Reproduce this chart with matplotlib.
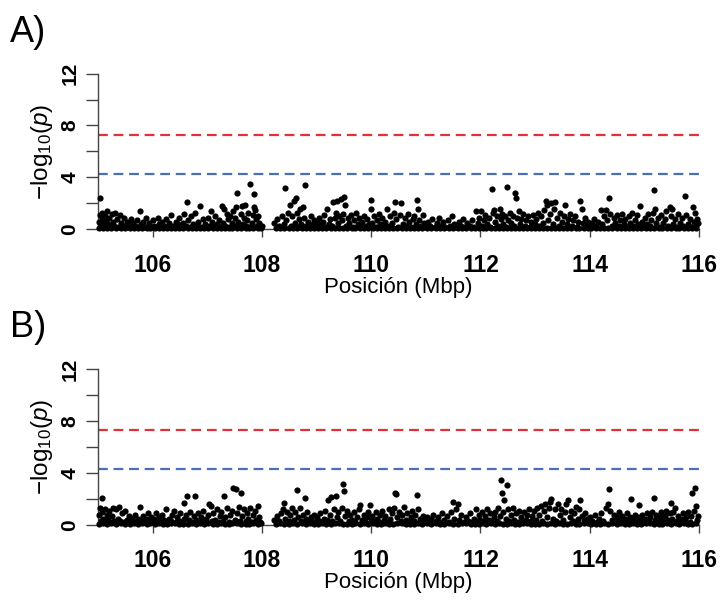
import matplotlib
matplotlib.use('Agg')
import matplotlib.pyplot as plt
import numpy as np

plt.rcParams['font.family'] = ['Liberation Sans', 'DejaVu Sans']
plt.rcParams['mathtext.fontset'] = 'custom'
plt.rcParams['mathtext.rm'] = 'Liberation Sans'
plt.rcParams['mathtext.it'] = 'Liberation Sans:italic'

# umbrales (-log10 p)
genome_wide = 7.3
suggestive = 4.3

x_ticks = [106, 108, 110, 112, 114, 116]
y_ticks = [0, 2, 4, 6, 8, 10, 12]
y_labels = ['0', '', '4', '', '8', '', '12']
panel_names = ['A)', 'B)']

# (posicion Mbp, -log10 p) panel A
snps_a = [
    (105.01, 0.6), (105.03, 1.1), (105.04, 2.4), (105.05, 0.3), (105.07, 0.9), (105.08, 1.3), (105.10, 0.5),
    (105.12, 0.2), (105.13, 1.0), (105.15, 0.7), (105.17, 1.4), (105.19, 0.4), (105.21, 0.9), (105.23, 0.2),
    (105.25, 1.2), (105.27, 0.6), (105.30, 0.3), (105.32, 1.3), (105.35, 0.8), (105.37, 0.2), (105.40, 1.1),
    (105.43, 0.5), (105.45, 0.3), (105.48, 0.9), (105.51, 0.2), (105.54, 0.6), (105.57, 0.4), (105.60, 0.8),
    (105.62, 0.2), (105.65, 0.5), (105.68, 0.3), (105.71, 0.7), (105.74, 0.2), (105.77, 1.4), (105.79, 0.4),
    (105.82, 0.6), (105.85, 0.2), (105.88, 0.9), (105.91, 0.3), (105.94, 0.5), (105.97, 0.2),
    (106.00, 0.7), (106.03, 0.3), (106.06, 0.2), (106.09, 0.9), (106.12, 0.4), (106.15, 0.2), (106.18, 0.6),
    (106.21, 0.3), (106.24, 0.8), (106.27, 0.2), (106.30, 0.5), (106.34, 1.1), (106.37, 0.3), (106.40, 0.2),
    (106.43, 0.6), (106.46, 0.4), (106.49, 0.9), (106.52, 0.2), (106.55, 0.5), (106.58, 1.2), (106.61, 0.3),
    (106.63, 2.1), (106.65, 0.7), (106.68, 0.2), (106.71, 1.0), (106.74, 0.4), (106.77, 1.3), (106.80, 0.3),
    (106.83, 0.6), (106.86, 1.8), (106.89, 0.2), (106.92, 0.8), (106.95, 0.4), (106.98, 0.2),
    (107.01, 0.9), (107.04, 0.3), (107.07, 1.4), (107.09, 0.6), (107.12, 0.2), (107.15, 1.0), (107.18, 0.4),
    (107.21, 0.7), (107.24, 0.2), (107.27, 1.8), (107.29, 0.5), (107.31, 1.6), (107.33, 0.3), (107.36, 1.2),
    (107.38, 0.8), (107.40, 0.2), (107.42, 1.0), (107.45, 0.5), (107.47, 1.4), (107.49, 0.3), (107.51, 0.9),
    (107.53, 1.7), (107.55, 2.8), (107.57, 0.6), (107.59, 0.2), (107.61, 1.2), (107.63, 1.8), (107.65, 0.4),
    (107.67, 0.9), (107.69, 1.9), (107.71, 0.3), (107.73, 0.7), (107.75, 1.3), (107.77, 0.2), (107.79, 3.5),
    (107.81, 0.5), (107.83, 1.1), (107.85, 2.7), (107.86, 1.75), (107.88, 1.5), (107.89, 0.8), (107.91, 0.3),
    (107.93, 1.0), (107.95, 0.5), (107.97, 0.2), (108.00, 0.3),
    (108.22, 0.5), (108.28, 0.8), (108.32, 0.3), (108.36, 1.0), (108.40, 0.4), (108.42, 3.2), (108.45, 0.7),
    (108.48, 1.3), (108.51, 1.9), (108.53, 0.3), (108.56, 1.0), (108.58, 2.2), (108.60, 0.5), (108.62, 2.4),
    (108.64, 1.3), (108.66, 0.2), (108.68, 0.8), (108.70, 1.6), (108.72, 0.4), (108.75, 1.7), (108.77, 0.9),
    (108.79, 3.4), (108.81, 0.3), (108.84, 0.6), (108.87, 0.2), (108.90, 1.0), (108.93, 0.4), (108.96, 0.7),
    (108.99, 0.2),
    (109.02, 0.5), (109.05, 0.9), (109.08, 0.3), (109.11, 0.6), (109.14, 1.1), (109.17, 0.2), (109.19, 1.6),
    (109.22, 0.4), (109.25, 0.8), (109.28, 0.3), (109.30, 2.1), (109.33, 0.9), (109.35, 1.3), (109.38, 2.2),
    (109.40, 0.5), (109.42, 1.0), (109.45, 2.35), (109.47, 0.7), (109.49, 1.2), (109.51, 2.5), (109.52, 1.9),
    (109.54, 0.3), (109.57, 0.9), (109.60, 0.5), (109.63, 1.1), (109.66, 0.2), (109.69, 0.7), (109.72, 1.3),
    (109.75, 0.4), (109.78, 0.9), (109.81, 0.2), (109.84, 0.6), (109.87, 1.0), (109.90, 0.3), (109.93, 0.8),
    (109.96, 0.4), (109.99, 2.3),
    (110.00, 1.6), (110.02, 0.5), (110.05, 1.0), (110.08, 0.2), (110.11, 0.7), (110.14, 1.2), (110.17, 0.4),
    (110.20, 0.9), (110.23, 0.2), (110.26, 0.6), (110.29, 1.6), (110.32, 0.3), (110.35, 1.0), (110.38, 0.5),
    (110.41, 1.3), (110.43, 2.1), (110.46, 0.8), (110.49, 0.2), (110.52, 1.1), (110.55, 2.0), (110.58, 0.4),
    (110.61, 0.9), (110.64, 0.3), (110.67, 1.2), (110.70, 0.6), (110.73, 0.2), (110.76, 0.8), (110.79, 1.0),
    (110.82, 0.4), (110.84, 2.3), (110.86, 1.6), (110.88, 0.7), (110.91, 0.3), (110.94, 1.1), (110.97, 0.5),
    (111.00, 0.2), (111.04, 0.6), (111.08, 0.3), (111.12, 0.8), (111.16, 0.2), (111.20, 0.5), (111.24, 0.9),
    (111.28, 0.3), (111.32, 0.6), (111.36, 0.2), (111.40, 0.7), (111.44, 0.3), (111.48, 1.0), (111.52, 0.4),
    (111.56, 0.2), (111.60, 0.6), (111.64, 0.3), (111.68, 0.8), (111.72, 0.2), (111.76, 0.5), (111.80, 0.3),
    (111.84, 0.7), (111.88, 0.2), (111.92, 1.4), (111.95, 0.5), (111.98, 0.9),
    (112.01, 1.4), (112.03, 0.3), (112.06, 0.7), (112.09, 1.1), (112.12, 0.4), (112.15, 0.9), (112.18, 0.2),
    (112.21, 3.1), (112.23, 1.3), (112.25, 1.5), (112.27, 0.6), (112.30, 1.0), (112.32, 0.3), (112.35, 1.6),
    (112.37, 0.8), (112.40, 1.2), (112.42, 0.4), (112.45, 1.0), (112.47, 0.2), (112.49, 3.25), (112.51, 0.7),
    (112.54, 1.3), (112.56, 0.5), (112.59, 1.0), (112.61, 0.3), (112.64, 2.8), (112.65, 2.4), (112.67, 0.9),
    (112.70, 1.4), (112.72, 0.4), (112.75, 0.8), (112.78, 1.2), (112.81, 0.3), (112.84, 0.7), (112.87, 1.0),
    (112.90, 0.2), (112.93, 0.6), (112.96, 1.1), (112.99, 0.4),
    (113.02, 0.8), (113.05, 1.3), (113.08, 0.3), (113.11, 1.0), (113.14, 0.5), (113.17, 1.5), (113.20, 2.2),
    (113.22, 1.9), (113.24, 0.7), (113.27, 1.2), (113.30, 2.0), (113.32, 0.4), (113.35, 1.6), (113.37, 2.1),
    (113.40, 0.9), (113.43, 0.3), (113.46, 1.3), (113.49, 0.6), (113.52, 1.0), (113.55, 1.9), (113.58, 0.4),
    (113.61, 0.8), (113.64, 1.2), (113.67, 0.3), (113.70, 0.7), (113.73, 1.0), (113.76, 0.2), (113.79, 0.6),
    (113.83, 2.2), (113.85, 1.6), (113.88, 0.5), (113.91, 0.9), (113.94, 0.3), (113.97, 0.6),
    (114.00, 0.2), (114.04, 0.5), (114.08, 0.8), (114.12, 0.3), (114.16, 0.6), (114.20, 1.5), (114.23, 0.4),
    (114.26, 1.0), (114.29, 1.5), (114.32, 0.7), (114.36, 2.4), (114.38, 1.2), (114.41, 0.3), (114.44, 0.9),
    (114.47, 0.5), (114.50, 1.1), (114.53, 0.3), (114.56, 0.7), (114.59, 1.2), (114.62, 0.4), (114.65, 0.8),
    (114.68, 0.2), (114.71, 1.0), (114.74, 0.5), (114.77, 1.3), (114.80, 0.3), (114.83, 0.7), (114.86, 1.1),
    (114.89, 0.4), (114.92, 1.8), (114.95, 0.6), (114.98, 0.2),
    (115.01, 0.9), (115.04, 0.4), (115.07, 1.2), (115.10, 0.3), (115.13, 0.7), (115.16, 1.3), (115.18, 3.0),
    (115.20, 1.6), (115.22, 0.5), (115.25, 0.9), (115.28, 0.2), (115.31, 1.1), (115.34, 0.5), (115.37, 0.8),
    (115.40, 1.4), (115.43, 0.3), (115.46, 1.7), (115.48, 1.0), (115.50, 1.6), (115.53, 0.4), (115.56, 0.8),
    (115.59, 0.2), (115.62, 1.2), (115.65, 0.5), (115.68, 0.9), (115.71, 0.3), (115.75, 2.6), (115.77, 1.1),
    (115.80, 0.4), (115.83, 0.8), (115.86, 0.2), (115.89, 1.7), (115.91, 0.6), (115.93, 1.3), (115.95, 0.3),
    (115.97, 0.8), (115.99, 0.5),
]

# (posicion Mbp, -log10 p) panel B
snps_b = [
    (105.01, 0.8), (105.03, 1.3), (105.05, 0.3), (105.07, 1.0), (105.08, 2.1), (105.10, 0.5), (105.12, 1.2),
    (105.14, 0.2), (105.16, 0.8), (105.18, 0.4), (105.20, 1.1), (105.22, 0.2), (105.25, 0.7), (105.28, 1.3),
    (105.30, 0.3), (105.33, 1.2), (105.36, 0.5), (105.38, 1.4), (105.41, 0.3), (105.44, 0.9), (105.47, 0.2),
    (105.50, 1.1), (105.53, 0.4), (105.56, 0.7), (105.59, 0.2), (105.62, 0.5), (105.65, 0.3), (105.68, 0.8),
    (105.71, 0.2), (105.74, 0.5), (105.76, 1.4), (105.79, 0.3), (105.82, 0.7), (105.85, 0.2), (105.88, 0.5),
    (105.91, 0.9), (105.94, 0.3), (105.97, 0.6),
    (106.00, 0.2), (106.03, 0.5), (106.06, 0.9), (106.09, 0.3), (106.12, 0.6), (106.15, 0.2), (106.18, 0.8),
    (106.21, 0.4), (106.24, 1.2), (106.27, 0.2), (106.30, 0.5), (106.33, 0.3), (106.36, 0.8), (106.39, 1.1),
    (106.42, 0.2), (106.45, 0.6), (106.48, 0.3), (106.51, 0.9), (106.54, 0.2), (106.57, 0.5), (106.58, 1.7),
    (106.61, 0.8), (106.63, 2.2), (106.66, 0.4), (106.69, 1.0), (106.72, 0.2), (106.75, 0.7), (106.78, 2.25),
    (106.80, 0.4), (106.83, 0.9), (106.86, 0.2), (106.89, 0.6), (106.92, 1.1), (106.95, 0.3), (106.98, 0.5),
    (107.01, 0.8), (107.03, 1.6), (107.06, 1.5), (107.08, 0.3), (107.11, 0.9), (107.14, 0.4), (107.17, 1.2),
    (107.20, 0.2), (107.23, 0.7), (107.26, 1.0), (107.29, 0.3), (107.31, 2.25), (107.33, 0.6), (107.36, 1.3),
    (107.39, 0.2), (107.42, 0.8), (107.45, 1.1), (107.48, 2.85), (107.50, 0.4), (107.53, 2.75), (107.55, 0.9),
    (107.58, 1.4), (107.60, 0.3), (107.62, 2.45), (107.64, 0.7), (107.67, 1.2), (107.70, 0.3), (107.72, 0.9),
    (107.75, 0.5), (107.78, 1.3), (107.81, 0.2), (107.84, 0.8), (107.87, 1.1), (107.90, 0.4), (107.92, 1.45),
    (107.94, 0.6), (107.97, 0.2),
    (108.22, 0.4), (108.27, 0.7), (108.31, 0.3), (108.35, 0.9), (108.38, 1.2), (108.41, 1.7), (108.43, 0.5),
    (108.46, 1.0), (108.49, 0.3), (108.52, 0.8), (108.55, 1.3), (108.58, 0.4), (108.61, 1.0), (108.64, 2.7),
    (108.66, 0.6), (108.69, 1.3), (108.72, 0.3), (108.75, 0.8), (108.78, 2.1), (108.80, 0.5), (108.83, 1.0),
    (108.86, 0.2), (108.89, 0.6), (108.92, 0.3), (108.95, 0.8), (108.98, 0.2),
    (109.01, 0.6), (109.04, 0.3), (109.07, 0.9), (109.10, 0.2), (109.13, 0.5), (109.16, 1.1), (109.19, 0.4),
    (109.21, 1.9), (109.24, 0.8), (109.27, 2.15), (109.29, 0.3), (109.32, 1.2), (109.35, 2.25), (109.37, 0.6),
    (109.40, 1.0), (109.43, 0.3), (109.46, 1.3), (109.48, 3.15), (109.51, 2.65), (109.53, 0.7), (109.56, 1.1),
    (109.59, 0.3), (109.62, 0.8), (109.65, 0.4), (109.68, 1.0), (109.71, 0.2), (109.74, 0.6), (109.77, 1.2),
    (109.80, 1.55), (109.83, 0.4), (109.86, 0.8), (109.89, 0.2), (109.92, 0.6), (109.95, 1.0), (109.97, 1.55),
    (109.99, 0.3),
    (110.02, 0.7), (110.05, 0.3), (110.08, 1.0), (110.11, 0.5), (110.14, 0.2), (110.17, 0.8), (110.20, 1.1),
    (110.23, 0.4), (110.26, 0.7), (110.29, 0.2), (110.32, 1.2), (110.35, 0.5), (110.38, 0.9), (110.41, 1.3),
    (110.43, 2.5), (110.46, 2.35), (110.48, 0.6), (110.51, 1.0), (110.54, 0.3), (110.57, 0.8), (110.60, 1.4),
    (110.63, 0.4), (110.66, 0.9), (110.69, 0.2), (110.72, 0.6), (110.75, 1.1), (110.78, 0.3), (110.81, 0.8),
    (110.84, 2.3), (110.86, 1.2), (110.89, 0.5), (110.92, 0.2), (110.95, 0.7), (110.98, 0.4),
    (111.02, 0.6), (111.06, 0.2), (111.10, 0.5), (111.14, 0.8), (111.18, 0.3), (111.22, 0.6), (111.26, 0.2),
    (111.30, 0.9), (111.34, 0.4), (111.38, 0.7), (111.42, 0.2), (111.46, 1.0), (111.50, 1.8), (111.52, 0.5),
    (111.55, 1.2), (111.58, 1.6), (111.61, 0.4), (111.65, 0.8), (111.69, 0.2), (111.73, 0.6), (111.77, 0.3),
    (111.81, 0.9), (111.85, 0.2), (111.88, 0.5), (111.91, 1.2), (111.94, 0.3), (111.97, 0.8),
    (112.00, 0.4), (112.03, 1.0), (112.06, 0.3), (112.09, 0.7), (112.12, 1.2), (112.15, 0.4), (112.18, 0.9),
    (112.21, 0.2), (112.24, 0.6), (112.27, 1.0), (112.30, 0.3), (112.33, 1.3), (112.36, 0.7), (112.38, 3.45),
    (112.39, 2.45), (112.41, 1.0), (112.43, 1.9), (112.46, 0.5), (112.48, 3.1), (112.50, 1.2), (112.53, 0.3),
    (112.56, 0.8), (112.59, 1.3), (112.62, 0.4), (112.65, 0.9), (112.68, 0.2), (112.71, 1.1), (112.74, 0.6),
    (112.77, 0.3), (112.80, 1.0), (112.83, 0.4), (112.86, 0.8), (112.89, 1.2), (112.92, 0.3), (112.95, 0.7),
    (112.98, 1.1),
    (113.01, 0.4), (113.04, 1.3), (113.07, 0.8), (113.10, 1.5), (113.13, 0.3), (113.16, 1.1), (113.19, 1.6),
    (113.22, 0.6), (113.25, 1.3), (113.28, 1.8), (113.30, 2.0), (113.33, 0.5), (113.36, 1.2), (113.39, 0.3),
    (113.42, 1.6), (113.45, 0.8), (113.48, 1.2), (113.51, 0.4), (113.54, 1.0), (113.57, 1.6), (113.60, 1.9),
    (113.63, 0.6), (113.66, 1.1), (113.69, 0.3), (113.72, 0.9), (113.75, 1.4), (113.78, 0.5), (113.81, 1.2),
    (113.83, 1.9), (113.86, 0.7), (113.89, 0.3), (113.92, 0.9), (113.95, 0.5), (113.98, 0.2),
    (114.01, 0.6), (114.05, 0.3), (114.09, 0.8), (114.13, 0.2), (114.17, 0.5), (114.21, 0.9), (114.25, 0.3),
    (114.29, 1.3), (114.33, 1.6), (114.35, 2.8), (114.38, 1.1), (114.41, 0.4), (114.44, 0.8), (114.47, 0.2),
    (114.50, 0.6), (114.53, 1.0), (114.56, 0.3), (114.59, 0.7), (114.62, 0.2), (114.65, 0.5), (114.68, 0.9),
    (114.71, 0.3), (114.74, 0.6), (114.76, 2.0), (114.79, 0.4), (114.82, 0.8), (114.85, 0.2), (114.88, 0.6),
    (114.90, 1.55), (114.93, 0.4), (114.96, 0.8), (114.99, 0.2),
    (115.02, 0.5), (115.05, 0.9), (115.08, 0.3), (115.11, 0.6), (115.14, 1.0), (115.17, 2.05), (115.19, 0.4),
    (115.22, 0.8), (115.25, 0.2), (115.28, 0.6), (115.31, 1.0), (115.34, 0.3), (115.37, 0.7), (115.40, 1.1),
    (115.43, 0.4), (115.46, 0.9), (115.48, 1.7), (115.50, 0.5), (115.53, 1.0), (115.56, 1.3), (115.59, 0.3),
    (115.62, 0.7), (115.65, 0.2), (115.68, 0.5), (115.71, 0.9), (115.74, 0.3), (115.77, 0.6), (115.80, 1.0),
    (115.83, 0.2), (115.86, 0.7), (115.88, 2.5), (115.90, 1.1), (115.93, 2.85), (115.95, 1.45), (115.97, 0.4),
    (115.99, 0.7),
]

# SNPs de fondo, casi sin senal (cerca de 0), igual para ambos paneles
fondo_pos = [
    105.02, 105.09, 105.16, 105.24, 105.33, 105.42, 105.50, 105.58, 105.66, 105.73, 105.81, 105.89, 105.96,
    106.04, 106.11, 106.19, 106.26, 106.33, 106.41, 106.48, 106.56, 106.64, 106.72, 106.79, 106.87, 106.94,
    107.02, 107.10, 107.17, 107.25, 107.32, 107.39, 107.46, 107.54, 107.62, 107.70, 107.76, 107.84, 107.92,
    107.99, 108.25, 108.33, 108.41, 108.49, 108.57, 108.65, 108.73, 108.80, 108.88, 108.95,
    109.03, 109.10, 109.18, 109.26, 109.34, 109.41, 109.48, 109.56, 109.64, 109.71, 109.79, 109.86, 109.94,
    110.03, 110.10, 110.18, 110.25, 110.33, 110.40, 110.48, 110.56, 110.63, 110.71, 110.78, 110.86, 110.93,
    111.02, 111.10, 111.18, 111.26, 111.34, 111.42, 111.50, 111.58, 111.66, 111.74, 111.82, 111.90, 111.97,
    112.04, 112.11, 112.19, 112.26, 112.34, 112.41, 112.48, 112.55, 112.63, 112.70, 112.77, 112.85, 112.92,
    113.00, 113.07, 113.15, 113.22, 113.29, 113.37, 113.44, 113.51, 113.59, 113.66, 113.74, 113.81, 113.89,
    113.96, 114.03, 114.11, 114.18, 114.26, 114.34, 114.41, 114.49, 114.57, 114.64, 114.72, 114.79, 114.87,
    114.94, 115.03, 115.10, 115.18, 115.26, 115.33, 115.41, 115.49, 115.57, 115.64, 115.72, 115.79, 115.87,
    115.95,
]
fondo_logp = [
    0.10, 0.15, 0.08, 0.12, 0.10, 0.14, 0.09, 0.11, 0.13, 0.08, 0.12, 0.10, 0.15,
    0.09, 0.13, 0.10, 0.08, 0.12, 0.14, 0.10, 0.09, 0.11, 0.13, 0.08, 0.12, 0.10,
    0.15, 0.09, 0.11, 0.13, 0.08, 0.10, 0.12, 0.14, 0.09, 0.11, 0.10, 0.13, 0.08,
    0.12, 0.10, 0.14, 0.09, 0.11, 0.13, 0.08, 0.12, 0.10, 0.15, 0.09,
    0.11, 0.13, 0.08, 0.10, 0.12, 0.14, 0.09, 0.11, 0.10, 0.13, 0.08, 0.12, 0.10,
    0.15, 0.09, 0.11, 0.13, 0.08, 0.10, 0.12, 0.14, 0.09, 0.11, 0.10, 0.13, 0.08,
    0.12, 0.10, 0.15, 0.09, 0.11, 0.13, 0.08, 0.10, 0.12, 0.14, 0.09, 0.11, 0.10,
    0.13, 0.08, 0.12, 0.10, 0.15, 0.09, 0.11, 0.13, 0.08, 0.10, 0.12, 0.14, 0.09,
    0.11, 0.10, 0.13, 0.08, 0.12, 0.10, 0.15, 0.09, 0.11, 0.13, 0.08, 0.10, 0.12,
    0.14, 0.09, 0.11, 0.10, 0.13, 0.08, 0.12, 0.10, 0.15, 0.09, 0.11, 0.13, 0.08,
    0.10, 0.12, 0.14, 0.09, 0.11, 0.10, 0.13, 0.08, 0.12, 0.10, 0.15, 0.09, 0.11,
    0.13,
]


def manhattan(ax, snps, name):
    pos, logp = np.array(snps).T
    ax.scatter(fondo_pos, fondo_logp, s=20, color='black', linewidths=0, clip_on=False, zorder=3)
    ax.scatter(pos, logp, s=20, color='black', linewidths=0, clip_on=False, zorder=3)
    ax.axhline(genome_wide, color='#e0303a', lw=1.6, ls=(0, (4.4, 2.6)))
    ax.axhline(suggestive, color='#4a6fb2', lw=1.6, ls=(0, (4.4, 2.6)))

    ax.set_xlim(105, 116)
    ax.set_ylim(0, 12)
    for side in ['top', 'right']:
        ax.spines[side].set_visible(False)
    for side in ['left', 'bottom']:
        ax.spines[side].set_color('#444444')
        ax.spines[side].set_linewidth(1.0)

    ax.set_xticks(x_ticks)
    ax.set_xticklabels([str(t) for t in x_ticks], fontsize=16.5, fontweight='bold')
    ax.set_yticks(y_ticks)
    ax.set_yticklabels(y_labels, fontsize=15, fontweight='bold', rotation=90, va='center')
    ax.tick_params(axis='x', length=5.5, width=1, color='#444444', pad=12)
    ax.tick_params(axis='y', length=8.5, width=1, color='#444444', pad=5)

    ax.set_xlabel('Posición (Mbp)', fontsize=16, labelpad=0)
    ax.set_ylabel(r'$\mathrm{-log}_{10}(\mathit{p})$', fontsize=17.5, labelpad=4)

    ax.text(-0.146, 1.205, name, transform=ax.transAxes, fontsize=26,
            ha='left', va='baseline')


fig = plt.figure(figsize=(7.21, 6), dpi=100)
fig.set_facecolor('white')
ax_a = fig.add_axes([0.1359, 0.6175, 0.8336, 0.26])
ax_b = fig.add_axes([0.1359, 0.125, 0.8336, 0.26])

manhattan(ax_a, snps_a, panel_names[0])
manhattan(ax_b, snps_b, panel_names[1])

fig.savefig('out.png', dpi=100)
